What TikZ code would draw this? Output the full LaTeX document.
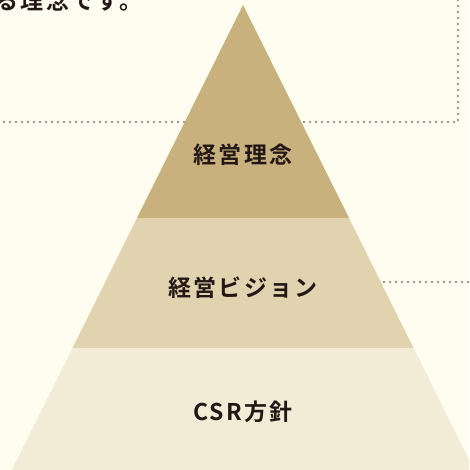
\documentclass[tikz,border=0pt]{standalone}
\usepackage{fontspec}
\setmainfont{Noto Sans CJK JP}
\newfontfamily\jpbold{Noto Sans CJK JP Bold}[LetterSpace=10]
\definecolor{bgc}{HTML}{FFFDF0}
\definecolor{topc}{HTML}{C9B17E}
\definecolor{midc}{HTML}{E1D3AF}
\definecolor{botc}{HTML}{F2EBD6}
\definecolor{txtc}{HTML}{231815}
\definecolor{dotc}{HTML}{959595}
\begin{document}
\begin{tikzpicture}[x=1pt,y=-1pt,
  dotline/.style={draw=dotc,line width=2.6pt,line cap=round,dash pattern=on 0pt off 6pt},
  label/.style={text=txtc,font=\jpbold\fontsize{23}{27}\selectfont,inner sep=0pt}]
\useasboundingbox[fill=bgc] (0,0) rectangle (469,470);
\begin{scope}
\clip (0,0) rectangle (469,470);
% dotted frames behind the pyramid
\draw[dotline] (458,-30) -- (458,122) -- (-10,122);
\draw[dotline] (480,282) -- (360,282);
% text ending of the upper frame
\node[label,anchor=east] (intro) at (143,1) {る理念です。};
% pyramid layers
\fill[topc] (243,5) -- (349,218) -- (137,218) -- cycle;
\fill[midc] (137,218) -- (349,218) -- (413.5,348) -- (72.5,348) -- cycle;
\fill[botc] (72.5,348) -- (413.5,348) -- (474,470) -- (12,470) -- cycle;
\end{scope}
\node[label] (l1) at (243,155) {経営理念};
\node[label] (l2) at (243,288) {経営ビジョン};
\node[label] (l3) at (243,412) {CSR方針};
\end{tikzpicture}
\end{document}
